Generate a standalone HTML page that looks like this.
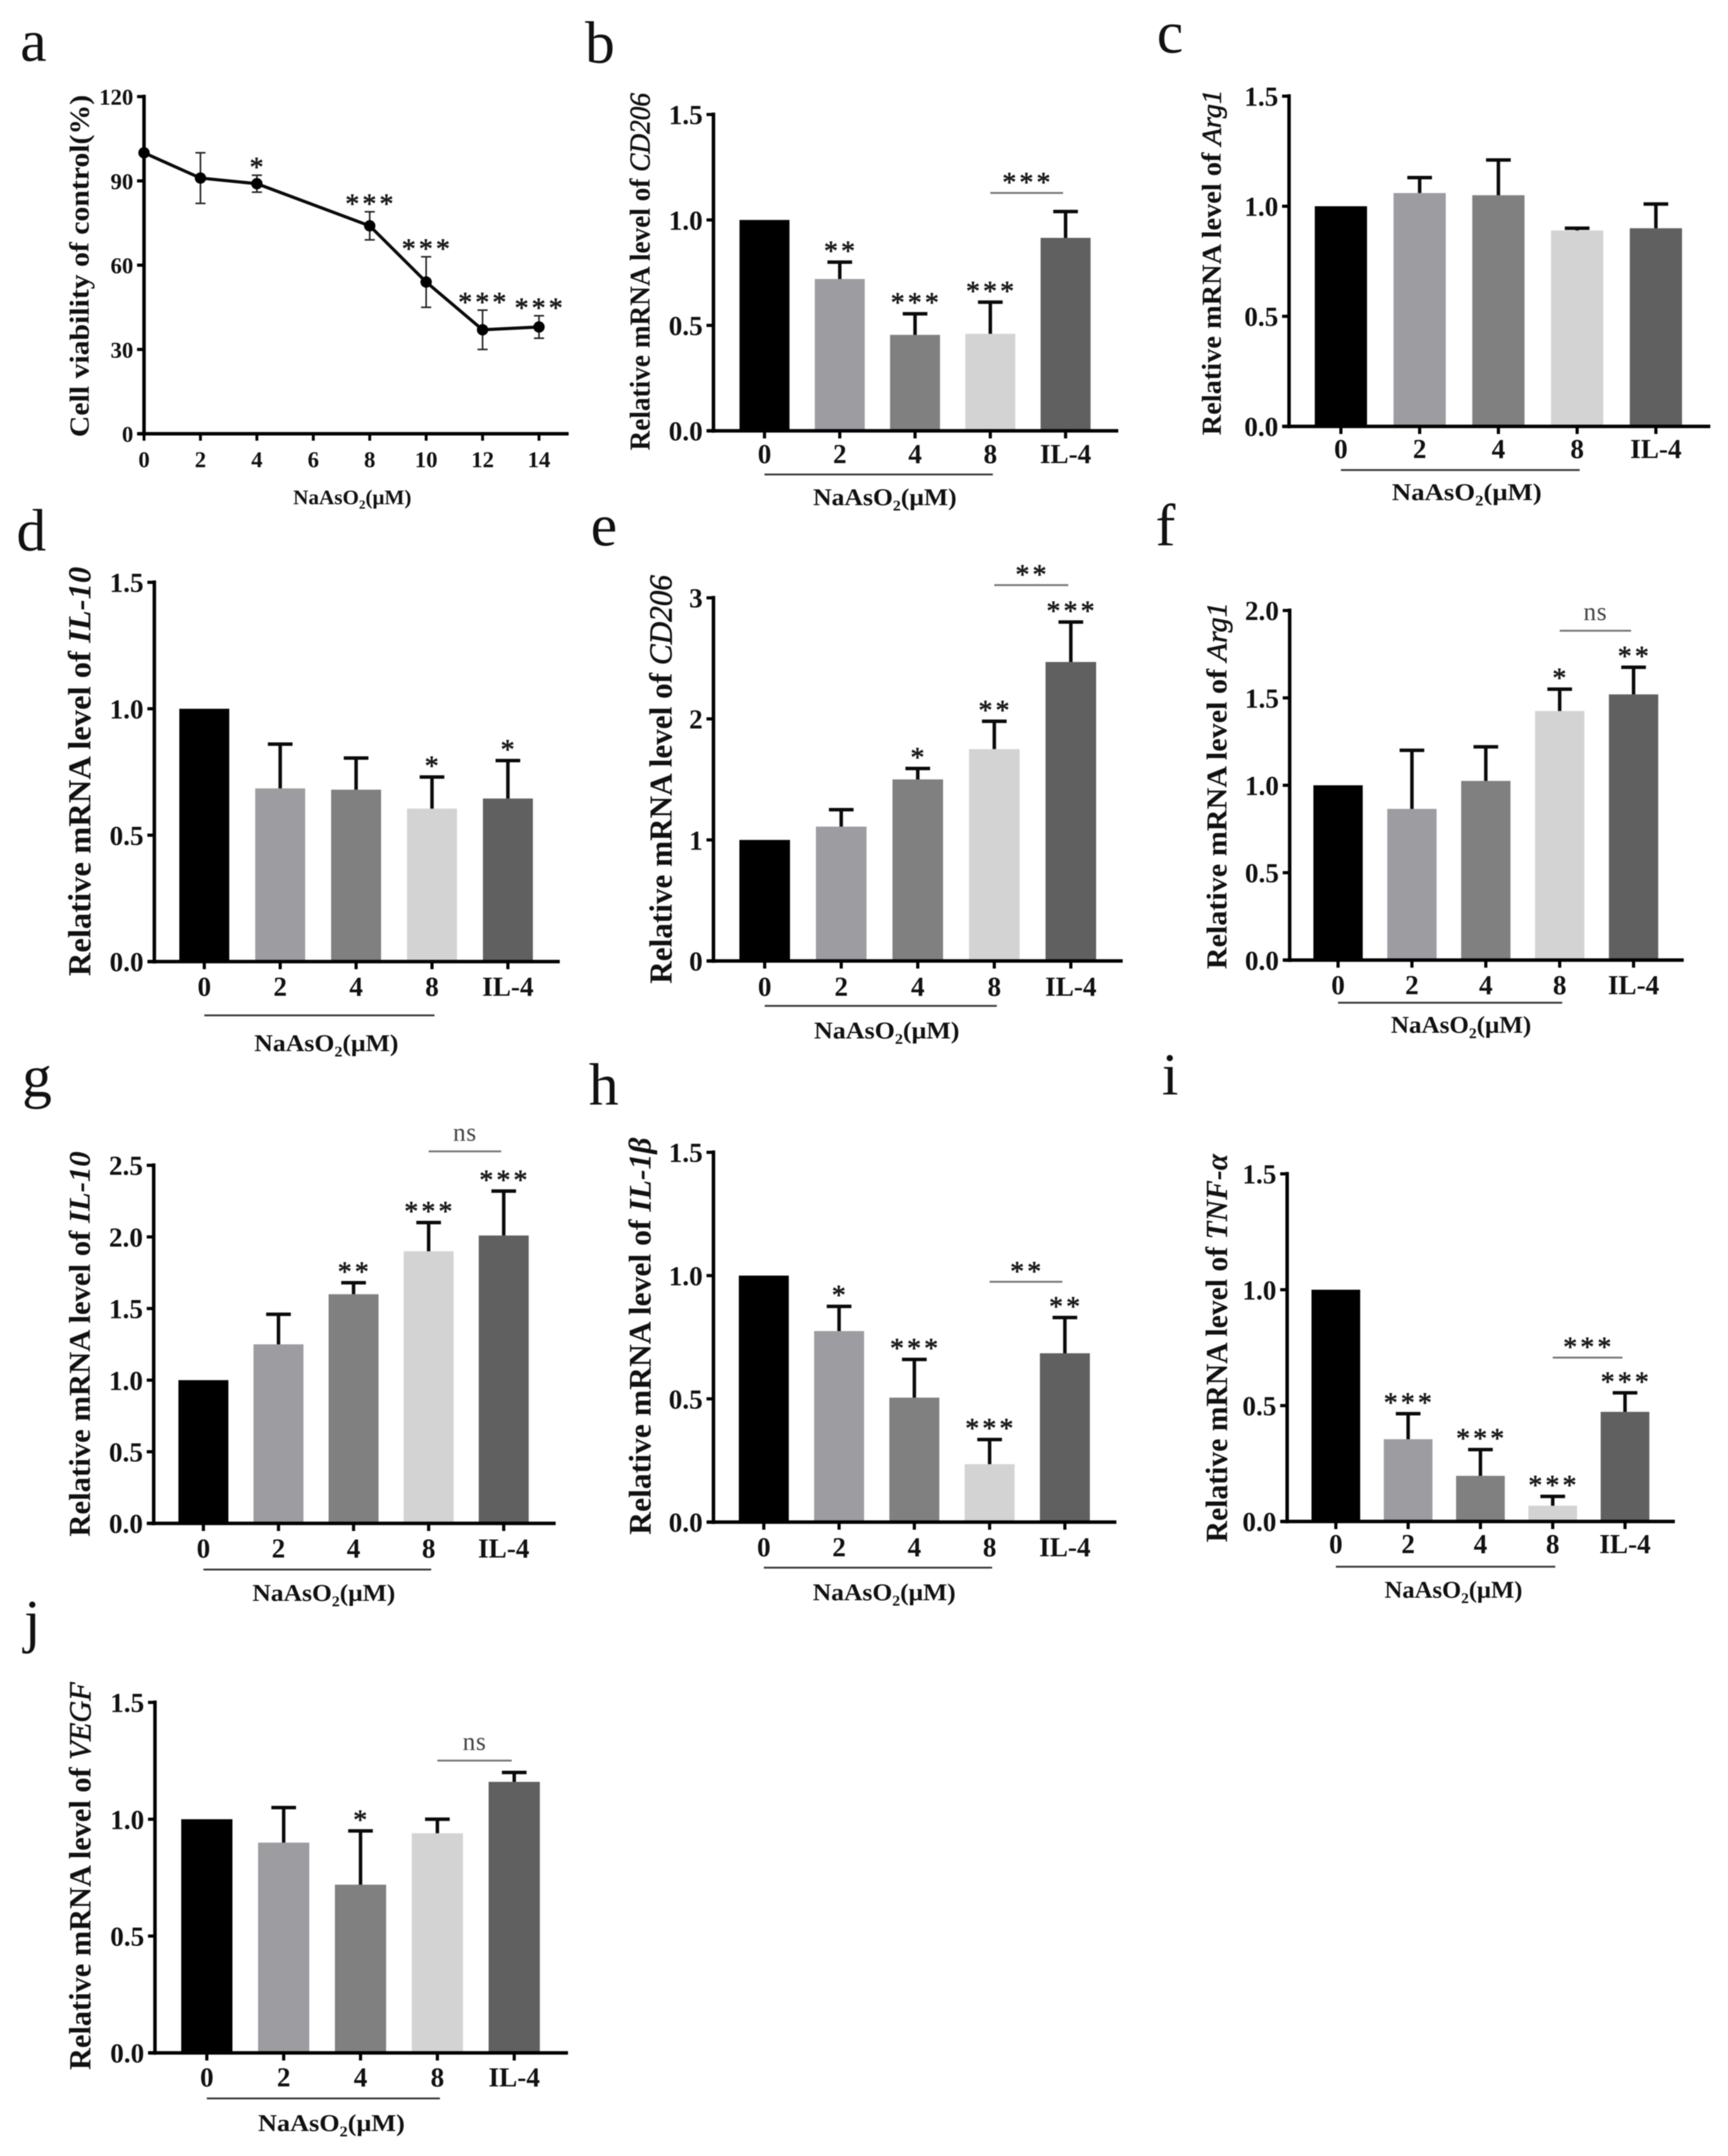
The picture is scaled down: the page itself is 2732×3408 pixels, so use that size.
<!DOCTYPE html>
<html lang="en">
<head>
<meta charset="utf-8">
<title>NaAsO2 macrophage mRNA panels</title>
<style>
html,body{margin:0;padding:0;background:#fff;width:2732px;height:3408px;overflow:hidden}
svg{display:block;filter:blur(0.9px)}
text{font-family:"Liberation Serif","Noto Serif CJK SC",serif;fill:#111}
</style>
</head>
<body>
<svg id="figure" xmlns="http://www.w3.org/2000/svg" width="2732" height="3408" viewBox="0 0 2732 3408"></svg>
<script>
// ---- chart data ----
const doseCategories = ['0','2','4','8','IL-4'];
const ticks15 = [0,0.5,1.0,1.5];
const ticks20 = [0,0.5,1.0,1.5,2.0];
const ticks25 = [0,0.5,1.0,1.5,2.0,2.5];
const ticks3 = [0,1,2,3];

const aDoses = [0,2,4,8,10,12,14];
const aValues = [100,91,89,74,54,37,38];
const aErrors = [0,9,3,5,9,7,4];
const aSig = ['','','*','***','***','***','***'];
const aXTicks = [0,2,4,6,8,10,12,14];
const aYTicks = [0,30,60,90,120];

const bValues = [1.0,0.72,0.455,0.46,0.915];
const bTops = [1.0,0.8,0.555,0.61,1.04];
const bSig = ['','**','***','***',''];
const cValues = [1.0,1.06,1.05,0.89,0.90];
const cTops = [1.0,1.13,1.21,0.90,1.01];
const cSig = ['','','','',''];
const dValues = [1.0,0.685,0.68,0.605,0.645];
const dTops = [1.0,0.86,0.805,0.73,0.795];
const dSig = ['','','','*','*'];
const eValues = [1.0,1.11,1.5,1.75,2.47];
const eTops = [1.0,1.25,1.59,1.98,2.8];
const eSig = ['','','*','**','***'];
const fValues = [1.0,0.865,1.025,1.425,1.52];
const fTops = [1.0,1.2,1.22,1.55,1.675];
const fSig = ['','','','*','**'];
const gValues = [1.0,1.25,1.6,1.9,2.01];
const gTops = [1.0,1.46,1.68,2.1,2.32];
const gSig = ['','','**','***','***'];
const hValues = [1.0,0.775,0.505,0.235,0.685];
const hTops = [1.0,0.875,0.66,0.335,0.83];
const hSig = ['','*','***','***','**'];
const iValues = [1.0,0.355,0.197,0.068,0.473];
const iTops = [1.0,0.465,0.31,0.108,0.555];
const iSig = ['','***','***','***','***'];
const jValues = [1.0,0.9,0.72,0.94,1.16];
const jTops = [1.0,1.05,0.95,1.0,1.2];
const jSig = ['','','*','',''];

const barPalette = ['#000000','#9d9da1','#808080','#d3d3d3','#606060'];
const NS = 'http://www.w3.org/2000/svg';
const root = document.getElementById('figure');

function mk(tag, attrs, parent, text){
  const n = document.createElementNS(NS, tag);
  for (const k in attrs) n.setAttribute(k, attrs[k]);
  if (text !== undefined) n.textContent = text;
  parent.appendChild(n);
  return n;
}

function panelLetter(parent, letter, x, y){
  const t = mk('text', {x:x, y:y, 'font-size':94}, parent, letter);
  
  
}

function yTitle(parent, plain, gene, geneBold, cx, cy, len){
  const fs = Math.round(len / 12.6);
  const t = mk('text', {
    transform:'translate(' + (cx + fs * 0.33) + ',' + cy + ') rotate(-90)',
    'text-anchor':'middle', 'font-size':fs, 'font-weight':'700',
    textLength:len, lengthAdjust:'spacingAndGlyphs'
  }, parent);
  mk('tspan', {}, t, plain);
  if (gene) mk('tspan', {'font-style':'italic', 'font-weight':geneBold ? '700' : '400', stroke:geneBold ? 'none' : '#111', 'stroke-width':geneBold ? 0 : 0.8}, t, gene);
  
  
}

function xTitle(parent, cx, cy, len, fs){
  const t = mk('text', {
    x:cx, y:cy + fs * 0.3, 'text-anchor':'middle', 'font-size':fs, 'font-weight':'700',
    textLength:len, lengthAdjust:'spacingAndGlyphs'
  }, parent);
  mk('tspan', {}, t, 'NaAsO');
  mk('tspan', {'font-size':fs * 0.62, dy:fs * 0.22}, t, '2');
  mk('tspan', {dy:-fs * 0.22}, t, '(\u03bcM)');
  
  
}

function stars(parent, label, cx, centerY, name){
  const fs = 44;
  const t = mk('text', {
    x:cx + 2, y:centerY + fs * 0.47, 'text-anchor':'middle', 'font-size':fs,
    'letter-spacing':5, stroke:'#1a1a1a', 'stroke-width':0.9, style:'fill:#1a1a1a'
  }, parent, label);
  
  
}

function drawAxes(parent, p, fs, yTicks, fmt){
  const yS = v => p.y0 - v / p.yMax * (p.y0 - p.yTop);
  const ya = mk('line', {x1:p.axisX, x2:p.axisX, y1:p.yTop - 3, y2:p.y0 + 3, stroke:'#000', 'stroke-width':5.5}, parent);
  
  
  const xa = mk('line', {x1:p.axisX - 10, x2:p.xEnd, y1:p.y0, y2:p.y0, stroke:'#000', 'stroke-width':5.5}, parent);
  
  
  yTicks.forEach(v => {
    const tk = mk('line', {x1:p.axisX - 11, x2:p.axisX, y1:yS(v), y2:yS(v), stroke:'#000', 'stroke-width':5}, parent);
    
    
    const lb = mk('text', {x:p.axisX - 17, y:yS(v) + fs * 0.33 + 1, 'text-anchor':'end', 'font-size':fs, 'font-weight':'700'}, parent, fmt(v));
    
    
  });
}

function drawBarPanel(p, values, tops, sig, yTicks, bracket){
  const g = mk('g', {}, root);
  
  
  const yS = v => p.y0 - v / p.yMax * (p.y0 - p.yTop);
  const xS = i => p.c0 + i * p.step;
  panelLetter(g, p.id, p.labelX, p.labelY);
  yTitle(g, 'Relative mRNA level of ', p.gene, p.geneBold, p.titleX, p.titleY, p.titleLen);
  values.forEach((v, i) => {
    const r = mk('rect', {x:xS(i) - p.barW / 2, y:yS(v), width:p.barW, height:p.y0 - yS(v), fill:barPalette[i]}, g);
    
    
    if (tops[i] > v) {
      const st = mk('line', {x1:xS(i), x2:xS(i), y1:yS(v), y2:yS(tops[i]), stroke:'#0a0a0a', 'stroke-width':5.5}, g);
      
      
      const cap = mk('line', {x1:xS(i) - 19.5, x2:xS(i) + 19.5, y1:yS(tops[i]), y2:yS(tops[i]), stroke:'#0a0a0a', 'stroke-width':5.5}, g);
      
      
    }
    if (sig[i]) stars(g, sig[i], xS(i), yS(tops[i]) - 24, 'significance-' + doseCategories[i]);
    const tk = mk('line', {x1:xS(i), x2:xS(i), y1:p.y0, y2:p.y0 + 12, stroke:'#000', 'stroke-width':5}, g);
    
    
    const lb = mk('text', {x:xS(i), y:p.y0 + p.tickDrop, 'text-anchor':'middle', 'font-size':43, 'font-weight':'700'}, g, doseCategories[i]);
    
    
  });
  drawAxes(g, p, 43, yTicks, p.fmt);
  const gl = mk('line', {x1:xS(0), x2:xS(3) + 4, y1:p.groupY, y2:p.groupY, stroke:'#3c3c3c', 'stroke-width':3}, g);
  
  
  xTitle(g, p.xTitleX, p.xTitleY, p.xTitleLen, 38);
  if (bracket) {
    const by = yS(bracket.level);
    const x1 = xS(3), x2 = xS(4) - 4;
    const bl = mk('line', {x1:x1, x2:x2, y1:by, y2:by, stroke:'#777', 'stroke-width':3}, g);
    
    
    if (bracket.label === 'ns') {
      const ns = mk('text', {x:(x1 + x2) / 2, y:by - 17, 'text-anchor':'middle', 'font-size':40, style:'fill:#444', 'letter-spacing':1}, g, 'ns');
      
      
    } else {
      stars(g, bracket.label, (x1 + x2) / 2, by - 23, 'comparison-label');
    }
  }
}

function drawLinePanel(){
  const p = {axisX:227.7, yTop:152.7, y0:685.6, xEnd:899, xMax:15.05, yMax:120};
  const g = mk('g', {}, root);
  
  
  const xS = v => p.axisX + v / p.xMax * (p.xEnd - p.axisX);
  const yS = v => p.y0 - v / p.yMax * (p.y0 - p.yTop);
  panelLetter(g, 'a', 32, 96);
  yTitle(g, 'Cell viability of control(%)', '', false, 126, 420.5, 541);
  drawAxes(g, p, 36, aYTicks, v => String(v));
  aXTicks.forEach(v => {
    const tk = mk('line', {x1:xS(v), x2:xS(v), y1:p.y0, y2:p.y0 + 11, stroke:'#000', 'stroke-width':4.5}, g);
    
    
    const lb = mk('text', {x:xS(v), y:p.y0 + 53, 'text-anchor':'middle', 'font-size':36, 'font-weight':'700'}, g, String(v));
    
    
  });
  const line = mk('polyline', {
    points:aDoses.map((d, i) => xS(d) + ',' + yS(aValues[i])).join(' '),
    fill:'none', stroke:'#0a0a0a', 'stroke-width':5
  }, g);
  
  
  aDoses.forEach((d, i) => {
    const x = xS(d), hi = yS(aValues[i] + aErrors[i]), lo = yS(aValues[i] - aErrors[i]);
    if (aErrors[i] > 0) {
      const eb = mk('path', {
        d:'M' + x + ' ' + lo + 'V' + hi + 'M' + (x - 8) + ' ' + hi + 'H' + (x + 8) + 'M' + (x - 8) + ' ' + lo + 'H' + (x + 8),
        fill:'none', stroke:'#222', 'stroke-width':2.5
      }, g);
      
      
    }
    const c = mk('circle', {cx:x, cy:yS(aValues[i]), r:9, fill:'#000'}, g);
    
    
    if (aSig[i]) stars(g, aSig[i], x, hi - 19, 'significance-' + d);
  });
  xTitle(g, 557, 787, 187, 33);
}

const fmt1 = v => v.toFixed(1);
const fmt0 = v => String(v);

drawLinePanel();
drawBarPanel({id:'b', gene:'CD206', geneBold:false, labelX:925, labelY:99, axisX:1128, yTop:181, y0:681, yMax:1.5, xEnd:1768, c0:1208.7, step:119, barW:79, groupY:750, tickDrop:51, xTitleX:1399, xTitleY:787, xTitleLen:227, titleX:1012, titleY:429.5, titleLen:565, fmt:fmt1}, bValues, bTops, bSig, ticks15, {level:1.128, label:'***'});
drawBarPanel({id:'c', gene:'Arg1', geneBold:false, labelX:1829, labelY:83, axisX:2038, yTop:152, y0:674, yMax:1.5, xEnd:2704, c0:2120, step:124.5, barW:82.6, groupY:743, tickDrop:50, xTitleX:2319, xTitleY:779, xTitleLen:237, titleX:1916, titleY:415, titleLen:546, fmt:fmt1}, cValues, cTops, cSig, ticks15, null);
drawBarPanel({id:'d', gene:'IL-10', geneBold:true, labelX:26, labelY:870, axisX:244, yTop:920.5, y0:1520, yMax:1.5, xEnd:885, c0:323, step:120, barW:79, groupY:1605, tickDrop:54, xTitleX:516, xTitleY:1650, xTitleLen:228, titleX:126, titleY:1219.5, titleLen:647, fmt:fmt1}, dValues, dTops, dSig, ticks15, null);
drawBarPanel({id:'e', gene:'CD206', geneBold:false, labelX:934, labelY:862, axisX:1128, yTop:945, y0:1519, yMax:3, xEnd:1775, c0:1209, step:121, barW:80, groupY:1590, tickDrop:55, xTitleX:1402, xTitleY:1630, xTitleLen:230, titleX:1045, titleY:1232, titleLen:646, fmt:fmt0}, eValues, eTops, eSig, ticks3, {level:3.105, label:'**'});
drawBarPanel({id:'f', gene:'Arg1', geneBold:false, labelX:1827, labelY:862, axisX:2039, yTop:965, y0:1517.6, yMax:2, xEnd:2662, c0:2115.5, step:116.8, barW:78, groupY:1585, tickDrop:54, xTitleX:2310, xTitleY:1621, xTitleLen:222, titleX:1924, titleY:1242, titleLen:580, fmt:fmt1}, fValues, fTops, fSig, ticks20, {level:1.884, label:'ns'});
drawBarPanel({id:'g', gene:'IL-10', geneBold:true, labelX:35, labelY:1733, axisX:243, yTop:1842, y0:2408, yMax:2.5, xEnd:878.5, c0:321.6, step:118.7, barW:79, groupY:2481, tickDrop:54, xTitleX:512, xTitleY:2519, xTitleLen:226, titleX:126, titleY:2124.5, titleLen:609, fmt:fmt1}, gValues, gTops, gSig, ticks25, {level:2.597, label:'ns'});
drawBarPanel({id:'h', gene:'IL-1\u03b2', geneBold:true, labelX:931, labelY:1746, axisX:1128, yTop:1821.5, y0:2406, yMax:1.5, xEnd:1765, c0:1207.6, step:119, barW:79, groupY:2478, tickDrop:54, xTitleX:1398, xTitleY:2518, xTitleLen:226, titleX:1012, titleY:2112, titleLen:628, fmt:fmt1}, hValues, hTops, hSig, ticks15, {level:0.975, label:'**'});
drawBarPanel({id:'i', gene:'TNF-\u03b1', geneBold:true, labelX:1837, labelY:1730, axisX:2035, yTop:1855.5, y0:2405, yMax:1.5, xEnd:2648, c0:2112, step:114.3, barW:77, groupY:2476.5, tickDrop:50, xTitleX:2298, xTitleY:2514, xTitleLen:218, titleX:1924, titleY:2131, titleLen:614, fmt:fmt1}, iValues, iTops, iSig, ticks15, {level:0.707, label:'***'});
drawBarPanel({id:'j', gene:'VEGF', geneBold:false, labelX:38, labelY:2594, axisX:245, yTop:2691, y0:3245, yMax:1.5, xEnd:898, c0:327, step:121.5, barW:81, groupY:3317, tickDrop:53, xTitleX:524, xTitleY:3357, xTitleLen:232, titleX:127, titleY:2965.5, titleLen:613, fmt:fmt1}, jValues, jTops, jSig, ticks15, {level:1.251, label:'ns'});
</script>
</body>
</html>
